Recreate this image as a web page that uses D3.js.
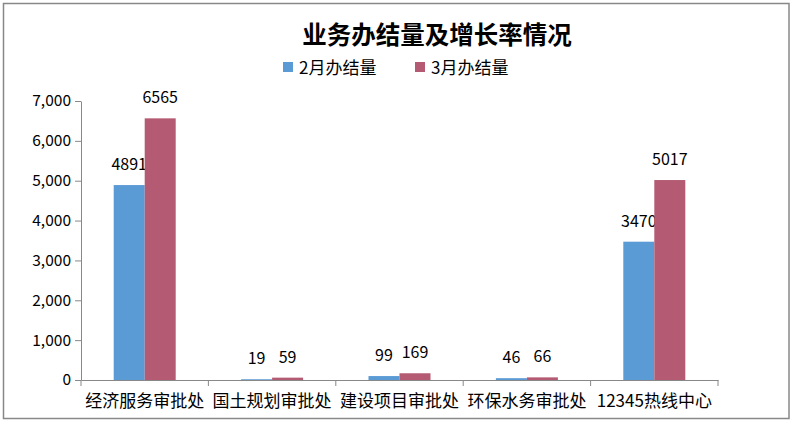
<!DOCTYPE html>
<html><head><meta charset="utf-8">
<script src="https://cdn.jsdelivr.net/npm/d3@7"></script>
<style>
html,body{margin:0;padding:0;background:#fff;}
text{font-family:"Noto Sans CJK SC","Noto Sans",sans-serif;}
</style></head>
<body><svg id="c" width="794" height="425"></svg>
<script>
const categories = ["经济服务审批处","国土规划审批处","建设项目审批处","环保水务审批处","12345热线中心"];
const seriesNames = ["2月办结量","3月办结量"];
const feb = [4891, 19, 99, 46, 3470];
const mar = [6565, 59, 169, 66, 5017];
const yTicks = [0,1000,2000,3000,4000,5000,6000,7000];
const colors = ["#5B9BD5","#B45B73"];
const title = "业务办结量及增长率情况";

(function(){
const svg = d3.select("#c");
svg.append("rect").attr("x",3.5).attr("y",3.5).attr("width",785.5).attr("height",415)
  .attr("fill","#fff").attr("stroke","#888").attr("stroke-width",1.5);

const pLeft=81, pRight=718, pTop=101, pBottom=380;
const x = d3.scaleBand().domain(categories).range([pLeft,pRight]);
const y = d3.scaleLinear().domain([0,7000]).range([pBottom,pTop]);
const bw = 31;
const xs = d3.scaleBand().domain([0,1]).range([0,bw*2]);

svg.append("text").attr("x",437).attr("y",44).attr("text-anchor","middle")
  .attr("font-size",24.5).attr("font-weight","bold").attr("fill","#000").text(title);

const lg = svg.append("g");
const lx=[283,415];
seriesNames.forEach((s,i)=>{
  lg.append("rect").attr("x",lx[i]).attr("y",62).attr("width",10).attr("height",10).attr("fill",colors[i]);
  lg.append("text").attr("x",lx[i]+16).attr("y",74).attr("font-size",17).attr("fill","#000").text(s);
});

const ya = d3.axisLeft(y).tickValues(yTicks).tickFormat(d3.format(",")).tickSize(6).tickSizeOuter(0);
const yg = svg.append("g").attr("transform",`translate(${pLeft},0)`).call(ya);
yg.select(".domain").attr("stroke","#888");
yg.selectAll(".tick line").attr("stroke","#888");
yg.selectAll(".tick text").attr("font-size",15.5).attr("fill","#000").attr("x",-10)
  .attr("font-family","'Noto Sans',sans-serif");

const data = [feb, mar];
data.forEach((arr,si)=>{
  svg.append("g").selectAll("rect").data(arr).join("rect")
    .attr("x",(d,i)=>x(categories[i])+x.bandwidth()/2-bw+xs(si))
    .attr("y",d=>y(d)).attr("width",bw).attr("height",d=>pBottom-y(d))
    .attr("fill",colors[si]);
  svg.append("g").selectAll("text").data(arr).join("text")
    .attr("x",(d,i)=>x(categories[i])+x.bandwidth()/2-bw+xs(si)+bw/2)
    .attr("y",d=>y(d)-15).attr("text-anchor","middle").attr("font-size",16)
    .attr("font-family","'Noto Sans',sans-serif").attr("fill","#000").text(d=>d);
});

const xa = d3.axisBottom(x).tickSize(0).tickSizeOuter(0);
const xg = svg.append("g").attr("transform",`translate(0,${pBottom})`).call(xa);
xg.select(".domain").attr("stroke","#888");
xg.selectAll(".tick text").attr("font-size",17).attr("fill","#000").attr("y",27).attr("dy",0);
const bounds = [pLeft].concat(categories.map(c=>x(c)+x.bandwidth()));
svg.append("g").selectAll("line").data(bounds).join("line")
  .attr("x1",d=>d).attr("x2",d=>d).attr("y1",pBottom).attr("y2",pBottom+6).attr("stroke","#888");
})();
</script></body></html>
